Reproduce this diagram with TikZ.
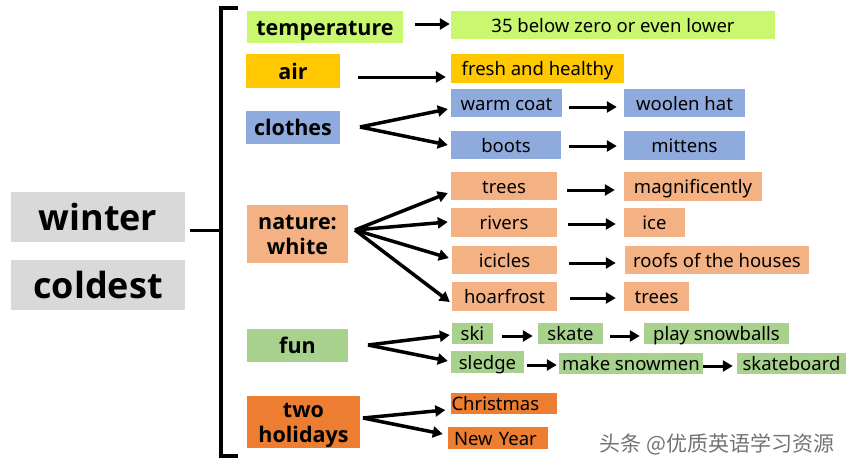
\documentclass[tikz,border=0pt]{standalone}
\usepackage{fontspec}
\setmainfont{Noto Sans}
\newfontfamily\osans{Open Sans}
\newfontfamily\cjk{Noto Sans CJK SC}
\usetikzlibrary{arrows.meta}
\definecolor{clime}{HTML}{C9F76F}
\definecolor{cgold}{HTML}{FFC800}
\definecolor{cblue}{HTML}{8FAADC}
\definecolor{csalmon}{HTML}{F4B183}
\definecolor{cgreen}{HTML}{A9D18E}
\definecolor{corange}{HTML}{ED7D31}
\definecolor{cgrey}{HTML}{D9D9D9}
\begin{document}
\begin{tikzpicture}[x=1pt,y=-1pt,
  box/.style={inner sep=0pt, align=center, text height=14pt, text depth=0pt, font=\fontsize{18.5}{20}\selectfont},
  cat/.style={box, text height=16pt, font=\osans\bfseries\fontsize{21.5}{25}\selectfont},
  cattwo/.style={cat, text height=41pt, text depth=0pt},
  big/.style={box, text height=26pt, font=\osans\bfseries\fontsize{36}{38}\selectfont},
  arr/.style={line width=3pt, -{Triangle[length=10pt,width=11pt]}},
  hub/.style={line width=3.5pt, -{Triangle[length=10pt,width=11pt]}}]
\useasboundingbox (0,0) rectangle (851,469);
% left
\node[big, fill=cgrey, minimum width=174pt, minimum height=50pt] (winter) at (98,217) {winter};
\node[big, fill=cgrey, minimum width=174pt, minimum height=50pt] (coldest) at (98,285) {coldest};
% categories
\node[cat, fill=clime, minimum width=156pt, minimum height=32pt] (temp) at (325,27) {temperature};
\node[cat, fill=cgold, minimum width=94pt, minimum height=34pt] (air) at (293,71) {air};
\node[cat, fill=cblue, minimum width=94pt, minimum height=33pt] (clothes) at (293,127.5) {clothes};
\node[cattwo, fill=csalmon, minimum width=101pt, minimum height=58pt] (nature) at (297.5,234) {nature:\\white};
\node[cat, fill=cgreen, minimum width=101pt, minimum height=33pt] (fun) at (297.5,345.5) {fun};
\node[cattwo, fill=corange, minimum width=113pt, minimum height=52pt] (hol) at (303.5,422) {two\\holidays};
% items
\node[box, fill=clime, minimum width=324pt, minimum height=28pt] (t35) at (613,25) {35 below zero or even lower};
\node[box, fill=cgold, minimum width=173pt, minimum height=29pt] (fresh) at (537.5,68.5) {fresh and healthy};
\node[box, fill=cblue, minimum width=111pt, minimum height=28pt] (coat) at (506.5,103) {warm coat};
\node[box, fill=cblue, minimum width=121pt, minimum height=28pt] (hat) at (684.5,103) {woolen hat};
\node[box, fill=cblue, minimum width=110pt, minimum height=28pt] (boots) at (506,145) {boots};
\node[box, fill=cblue, minimum width=121pt, minimum height=29pt] (mittens) at (684.5,145.5) {mittens};
\node[box, fill=csalmon, minimum width=106pt, minimum height=28pt] (trees) at (504,186) {trees};
\node[box, fill=csalmon, minimum width=138pt, minimum height=29pt] (magn) at (693,186.5) {magnificently};
\node[box, fill=csalmon, minimum width=106pt, minimum height=29pt] (rivers) at (504,222.5) {rivers};
\node[box, fill=csalmon, minimum width=61pt, minimum height=29pt] (ice) at (654.5,222.5) {ice};
\node[box, fill=csalmon, minimum width=105pt, minimum height=28pt] (icicles) at (504.5,260) {icicles};
\node[box, fill=csalmon, minimum width=184pt, minimum height=28pt] (roofs) at (717,260) {roofs of the houses};
\node[box, fill=csalmon, minimum width=105pt, minimum height=29pt] (hoar) at (504.5,296.5) {hoarfrost};
\node[box, fill=csalmon, minimum width=65pt, minimum height=29pt] (treesb) at (656.5,296.5) {trees};
\node[box, fill=cgreen, minimum width=41pt, minimum height=21pt] (ski) at (472.5,333.5) {ski};
\node[box, fill=cgreen, minimum width=65pt, minimum height=21pt] (skate) at (570.5,333.5) {skate};
\node[box, fill=cgreen, minimum width=145pt, minimum height=21pt] (play) at (716.5,333.5) {play snowballs};
\node[box, fill=cgreen, minimum width=73pt, minimum height=22pt] (sledge) at (487.5,362) {sledge};
\node[box, fill=cgreen, minimum width=144pt, minimum height=21pt] (make) at (631,363.5) {make snowmen};
\node[box, fill=cgreen, minimum width=109pt, minimum height=21pt] (board) at (791.5,363.5) {skateboard};
\node[box, fill=corange, minimum width=105pt, minimum height=21pt, text width=104pt, align=left, inner xsep=1pt] (xmas) at (503.5,403.5) {Christmas};
\node[box, fill=corange, minimum width=94pt, minimum height=22pt, text width=88pt, align=left, inner xsep=6pt] (ny) at (498,438) {New Year};
% watermark
\node[inner sep=0pt, text=black!55, font=\cjk\fontsize{21}{24}\selectfont] (wm) at (717,444) {头条 @优质英语学习资源};
% bracket
\coordinate (btop) at (238,8);
\coordinate (bbot) at (238,456);
\draw[line width=3.5pt] (btop) -- (221,8) -- (221,456) -- (bbot);
\draw[line width=3pt] ([shift={(5,13)}]winter.east) -- (221,230);
% hubs
\coordinate (chub) at (360,127);
\coordinate (nhub) at (355,230);
\coordinate (fhub) at (368,345);
\coordinate (hhub) at (363,418);
% arrows
\draw[arr] ([shift={(12,-3)}]temp.east) -- ([shift={(-1,-1)}]t35.west);
\draw[arr] ([shift={(18,6)}]air.east) -- ([shift={(-5,8.5)}]fresh.west);
\draw[hub] (chub) -- ([shift={(-3,6)}]coat.west);
\draw[hub] (chub) -- ([shift={(-3,0)}]boots.west);
\draw[arr] ([shift={(7,4)}]coat.east) -- ([shift={(-7,4)}]hat.west);
\draw[arr] ([shift={(8,1)}]boots.east) -- ([shift={(-7,0.5)}]mittens.west);
\draw[hub] (nhub) -- ([shift={(-3,7)}]trees.west);
\draw[hub] (nhub) -- ([shift={(-3,-0.5)}]rivers.west);
\draw[hub] (nhub) -- ([shift={(-3,-2)}]icicles.west);
\draw[hub] (nhub) -- ([shift={(-2,5.5)}]hoar.west);
\draw[arr] ([shift={(10,4)}]trees.east) -- ([shift={(-9,3.5)}]magn.west);
\draw[arr] ([shift={(11,1.5)}]rivers.east) -- ([shift={(-8,1.5)}]ice.west);
\draw[arr] ([shift={(12,3)}]icicles.east) -- ([shift={(-9,3)}]roofs.west);
\draw[arr] ([shift={(13,1.5)}]hoar.east) -- ([shift={(-8,1.5)}]treesb.west);
\draw[hub] (fhub) -- ([shift={(-2,1.5)}]ski.west);
\draw[hub] (fhub) -- ([shift={(-3,-1)}]sledge.west);
\draw[arr] ([shift={(9,2.5)}]ski.east) -- ([shift={(-5,2.5)}]skate.west);
\draw[arr] ([shift={(7,2.5)}]skate.east) -- ([shift={(-4,2.5)}]play.west);
\draw[arr] ([shift={(3,3)}]sledge.east) -- ([shift={(-2,1.5)}]make.west);
\draw[arr] ([shift={(0,2.5)}]make.east) -- ([shift={(-4,2.5)}]board.west);
\draw[hub] (hhub) -- ([shift={(-5,6.5)}]xmas.west);
\draw[hub] (hhub) -- ([shift={(-5,-4)}]ny.west);
\end{tikzpicture}
\end{document}
